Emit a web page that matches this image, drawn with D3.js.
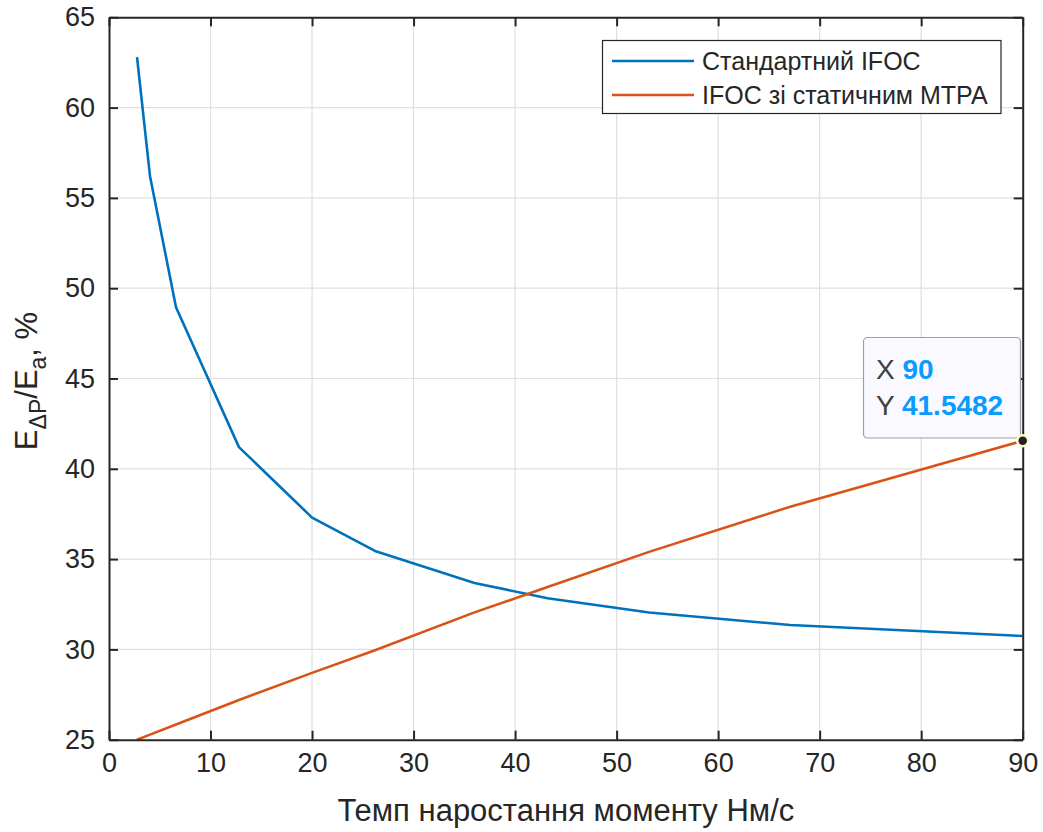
<!DOCTYPE html>
<html>
<head>
<meta charset="utf-8">
<script src="https://cdn.jsdelivr.net/npm/d3@7"></script>
<style>
  body { margin: 0; background: #fff; }
  svg { display: block; font-family: "Liberation Sans", Arial, sans-serif; }
</style>
</head>
<body>
<div id="chart"></div>
<script>
// data
var rates = [2.76, 4.04, 6.6, 12.8, 20, 26.2, 36, 43.2, 53.2, 67.1, 90];
var standardIfoc = [62.8, 56.2, 48.95, 41.2, 37.3, 35.45, 33.68, 32.83, 32.04, 31.35, 30.74];
var staticMtpa = [25.0, 25.28, 25.84, 27.2, 28.7, 29.95, 32.05, 33.45, 35.4, 37.9, 41.5482];
var xTicks = [0, 10, 20, 30, 40, 50, 60, 70, 80, 90];
var yTicks = [25, 30, 35, 40, 45, 50, 55, 60, 65];
var seriesNames = ["Стандартний IFOC", "IFOC зі статичним MTPA"];
var seriesColors = ["#0072BD", "#D95319"];

var W = 1043, H = 832;
var pLeft = 109, pRight = 1022.7, pTop = 17.3, pBottom = 739.7;

var svg = d3.select("#chart").append("svg").attr("width", W).attr("height", H);

var x = d3.scaleLinear().domain([0, 90]).range([pLeft, pRight]);
var y = d3.scaleLinear().domain([25, 65]).range([pBottom, pTop]);

// grid
svg.append("g").selectAll("line").data(xTicks.slice(1, -1)).enter().append("line")
    .attr("x1", d => x(d)).attr("x2", d => x(d)).attr("y1", pTop).attr("y2", pBottom)
    .attr("stroke", "#dfdfdf").attr("stroke-width", 1.2);
svg.append("g").selectAll("line").data(yTicks.slice(1, -1)).enter().append("line")
    .attr("y1", d => y(d)).attr("y2", d => y(d)).attr("x1", pLeft).attr("x2", pRight)
    .attr("stroke", "#dfdfdf").attr("stroke-width", 1.2);

// lines
var line = d3.line().x(d => x(d[0])).y(d => y(d[1]));
[standardIfoc, staticMtpa].forEach(function(vals, i) {
    svg.append("path").datum(rates.map((r, j) => [r, vals[j]]))
        .attr("fill", "none").attr("stroke", seriesColors[i]).attr("stroke-width", 2.6)
        .attr("stroke-linejoin", "round").attr("d", line);
});

// axes (MATLAB style box with inward ticks)
var axisColor = "#262626";
var xAxisB = d3.axisBottom(x).tickValues(xTicks).tickSizeInner(-9).tickSizeOuter(0).tickPadding(13);
var xAxisT = d3.axisTop(x).tickValues(xTicks).tickSizeInner(-9).tickSizeOuter(0).tickFormat("");
var yAxisL = d3.axisLeft(y).tickValues(yTicks).tickSizeInner(-9).tickSizeOuter(0).tickPadding(14);
var yAxisR = d3.axisRight(y).tickValues(yTicks).tickSizeInner(-9).tickSizeOuter(0).tickFormat("");

function styleAxis(g) {
    g.attr("font-size", 27).attr("font-family", "'Liberation Sans', Arial, sans-serif");
    g.select(".domain").attr("stroke", axisColor).attr("stroke-width", 2);
    g.selectAll(".tick line").attr("stroke", axisColor).attr("stroke-width", 2);
    g.selectAll(".tick text").attr("fill", axisColor);
}
svg.append("g").attr("transform", `translate(0,${pBottom})`).call(xAxisB).call(styleAxis);
svg.append("g").attr("transform", `translate(0,${pTop})`).call(xAxisT).call(styleAxis);
svg.append("g").attr("transform", `translate(${pLeft},0)`).call(yAxisL).call(styleAxis);
svg.append("g").attr("transform", `translate(${pRight},0)`).call(yAxisR).call(styleAxis);

// axis labels
svg.append("text").attr("x", (pLeft + pRight) / 2).attr("y", 821).attr("text-anchor", "middle")
    .attr("fill", axisColor).style("font-size", "31px").text("Темп наростання моменту Нм/с");

var yl = svg.append("text").attr("transform", "translate(37,381) rotate(-90)")
    .attr("text-anchor", "middle").attr("fill", axisColor).style("font-size", "31px");
yl.append("tspan").text("E");
yl.append("tspan").attr("dy", 9).style("font-size", "23px").text("ΔP");
yl.append("tspan").attr("dy", -9).text("/E");
yl.append("tspan").attr("dy", 9).style("font-size", "23px").text("a");
yl.append("tspan").attr("dy", -9).text(", %");

// legend
var lg = svg.append("g");
lg.append("rect").attr("x", 602.5).attr("y", 40.5).attr("width", 398.5).attr("height", 73)
    .attr("fill", "#fff").attr("stroke", axisColor).attr("stroke-width", 1.2);
seriesNames.forEach(function(name, i) {
    var yy = 61 + i * 34;
    lg.append("line").attr("x1", 612).attr("x2", 694).attr("y1", yy).attr("y2", yy)
        .attr("stroke", seriesColors[i]).attr("stroke-width", 2.6);
    lg.append("text").attr("x", 702).attr("y", yy + 8.5).attr("fill", axisColor)
        .style("font-size", "25px").text(name);
});

// datatip
var tipX = rates[rates.length - 1], tipY = staticMtpa[staticMtpa.length - 1];
var tip = svg.append("g");
tip.append("rect").attr("x", 863.5).attr("y", 337.5).attr("width", 157).attr("height", 100.5)
    .attr("rx", 4).attr("fill", "#f9f9ff").attr("stroke", "#a0a0a0").attr("stroke-width", 1.2);
var rows = [["X", String(tipX)], ["Y", String(tipY)]];
rows.forEach(function(r, i) {
    var t = tip.append("text").attr("x", 876).attr("y", 379 + i * 36).style("font-size", "28px");
    t.append("tspan").attr("fill", "#404040").text(r[0] + " ");
    t.append("tspan").attr("fill", "#0a9bff").attr("font-weight", "bold").text(r[1]);
});
svg.append("circle").attr("cx", x(tipX)).attr("cy", y(tipY)).attr("r", 5.5)
    .attr("fill", "#222").attr("stroke", "#ffffd0").attr("stroke-width", 2.5);
</script>
</body>
</html>
